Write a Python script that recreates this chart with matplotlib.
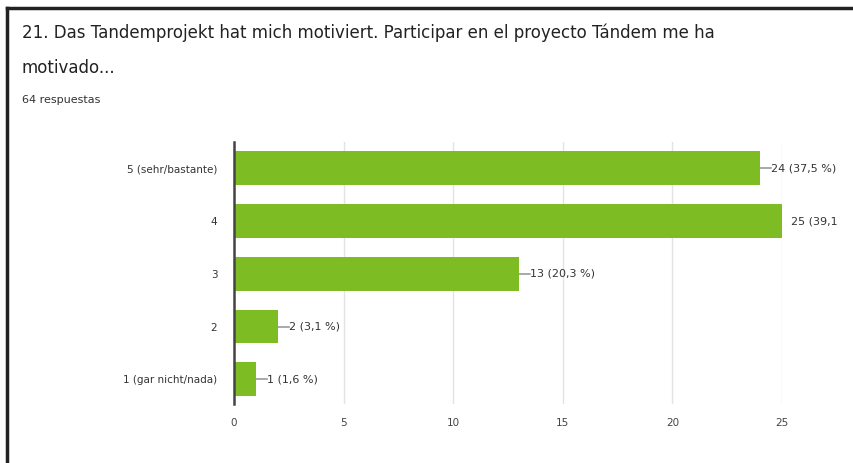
import matplotlib.pyplot as plt
from matplotlib.lines import Line2D

categories = ["5 (sehr/bastante)", "4", "3", "2", "1 (gar nicht/nada)"]
counts = [24, 25, 13, 2, 1]
value_labels = ["24 (37,5 %)", "25 (39,1", "13 (20,3 %)", "2 (3,1 %)", "1 (1,6 %)"]
xticks = [0, 5, 10, 15, 20, 25]

title_lines = ["21. Das Tandemprojekt hat mich motiviert. Participar en el proyecto Tándem me ha",
               "motivado..."]
subtitle = "64 respuestas"

W, H = 854, 463
fig = plt.figure(figsize=(W / 100, H / 100), dpi=100)
fig.patch.set_facecolor("white")

ax = fig.add_axes([234 / W, 1 - 404 / H, (782 - 234) / W, (404 - 142) / H])

ypos = list(range(len(categories) - 1, -1, -1))
ax.barh(ypos, counts, height=0.64, color="#7dbd23", zorder=3)

xmax = 25
ax.set_xlim(0, xmax)
ax.set_ylim(-0.47, 4.5)

for y, c, lab in zip(ypos, counts, value_labels):
    if c < xmax:
        ax.plot([c, c + 0.5], [y, y], color="#999999", lw=1.2, zorder=2, clip_on=False)
        ax.text(c + 0.5, y, lab, va="center", ha="left", fontsize=8, color="#333333")
    else:
        ax.text(c + 0.4, y, lab, va="center", ha="left", fontsize=8, color="#333333",
                clip_on=False)

ax.set_yticks(ypos)
ax.set_yticklabels(categories, fontsize=7.5, color="#333333")
ax.set_xticks(xticks)
ax.set_xticklabels([str(t) for t in xticks], fontsize=7.5, color="#444444")
ax.tick_params(axis="both", length=0, pad=12)
ax.tick_params(axis="x", pad=10)

ax.grid(axis="x", color="#e3e3e3", lw=1, zorder=0)
for s in ["top", "right", "bottom"]:
    ax.spines[s].set_visible(False)
ax.spines["left"].set_color("#444444")
ax.spines["left"].set_linewidth(1.8)
ax.spines["left"].set_zorder(4)

fig.text(22 / W, 1 - 33 / H, title_lines[0], ha="left", va="center", fontsize=12,
         color="#222222")
fig.text(22 / W, 1 - 68 / H, title_lines[1], ha="left", va="center", fontsize=12,
         color="#222222")
fig.text(22 / W, 1 - 100 / H, subtitle, ha="left", va="center", fontsize=8,
         color="#333333")

# frame around the screenshot
fig.add_artist(Line2D([7 / W, 7 / W], [0, 1 - 8 / H], color="#222222", lw=2.5))
fig.add_artist(Line2D([7 / W, 1], [1 - 8 / H, 1 - 8 / H], color="#222222", lw=2.5))

fig.savefig("out.png", dpi=100)
